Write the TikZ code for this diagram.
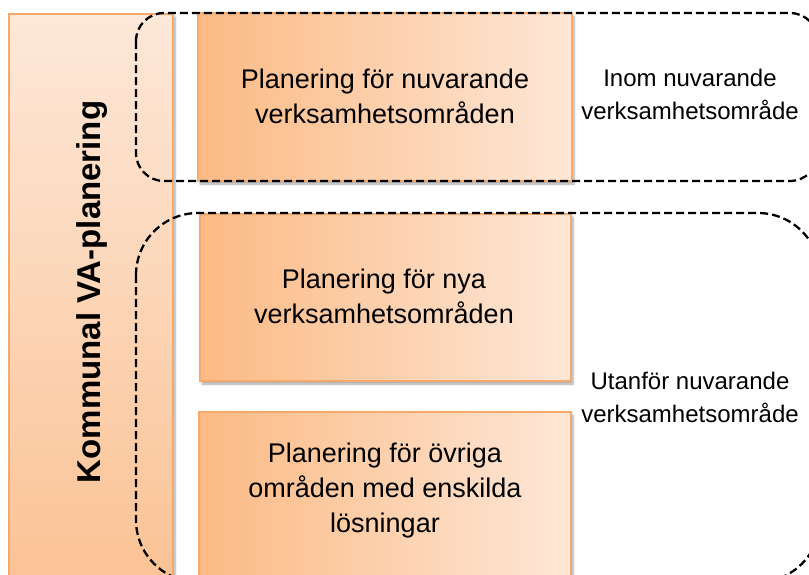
\documentclass[tikz,border=0pt]{standalone}
\usepackage{fontspec}
\setmainfont{Liberation Sans}
\usetikzlibrary{shadows.blur}
\definecolor{obord}{HTML}{F6A96B}
\definecolor{odark}{HTML}{FBBA84}
\definecolor{olight}{HTML}{FEE7D7}
\definecolor{bartop}{HTML}{FDE8D9}
\definecolor{barbot}{HTML}{FBC294}
\tikzset{
  obox/.style={draw=obord, line width=1.2pt, left color=odark, right color=olight,
    minimum width=#1, inner sep=0pt, outer sep=0pt,
    blur shadow={shadow xshift=2pt, shadow yshift=-3pt, shadow blur steps=6, shadow opacity=35}},
  dashbox/.style={draw=black, line width=2.3pt, dash pattern=on 8pt off 4pt},
  boxtext/.style={align=center, font=\fontsize{27}{35}\selectfont},
  sidetext/.style={align=center, font=\fontsize{24}{33}\selectfont},
}
\begin{document}
\begin{tikzpicture}[x=1pt,y=-1pt]
\useasboundingbox (0,0) rectangle (809,574);
\clip (0,0) rectangle (809,574);
% left bar
\node[draw=obord, line width=1.2pt, top color=bartop, bottom color=barbot,
  minimum width=164pt, minimum height=576pt, inner sep=0pt,
  blur shadow={shadow xshift=2pt, shadow yshift=-3pt, shadow blur steps=6, shadow opacity=35}]
  (bar) at (91,302) {};
% orange boxes
\node[obox=374pt, minimum height=168pt] (b1) at (385,97) {};
\node[obox=371pt, minimum height=167pt] (b2) at (385.5,297.5) {};
\node[obox=372pt, minimum height=168pt] (b3) at (385,496) {};
% dashed areas
\draw[dashbox, rounded corners=28pt] (136,13) rectangle (818,181);
\draw[dashbox, rounded corners=62pt] (136,213) rectangle (820,582);
% texts
\node[rotate=90, font=\bfseries\fontsize{33}{40}\selectfont] (bart) at (92,292) {Kommunal VA-planering};
\node[boxtext] (t1) at (385,96) {Planering för nuvarande\\verksamhetsområden};
\node[boxtext] (t2) at (384,296) {Planering för nya\\verksamhetsområden};
\node[boxtext] (t3) at (385,491) {Planering för övriga\\områden med enskilda\\lösningar};
\node[sidetext] (s1) at (690,94) {Inom nuvarande\\verksamhetsområde};
\node[sidetext] (s2) at (690,397) {Utanför nuvarande\\verksamhetsområde};
\end{tikzpicture}
\end{document}
